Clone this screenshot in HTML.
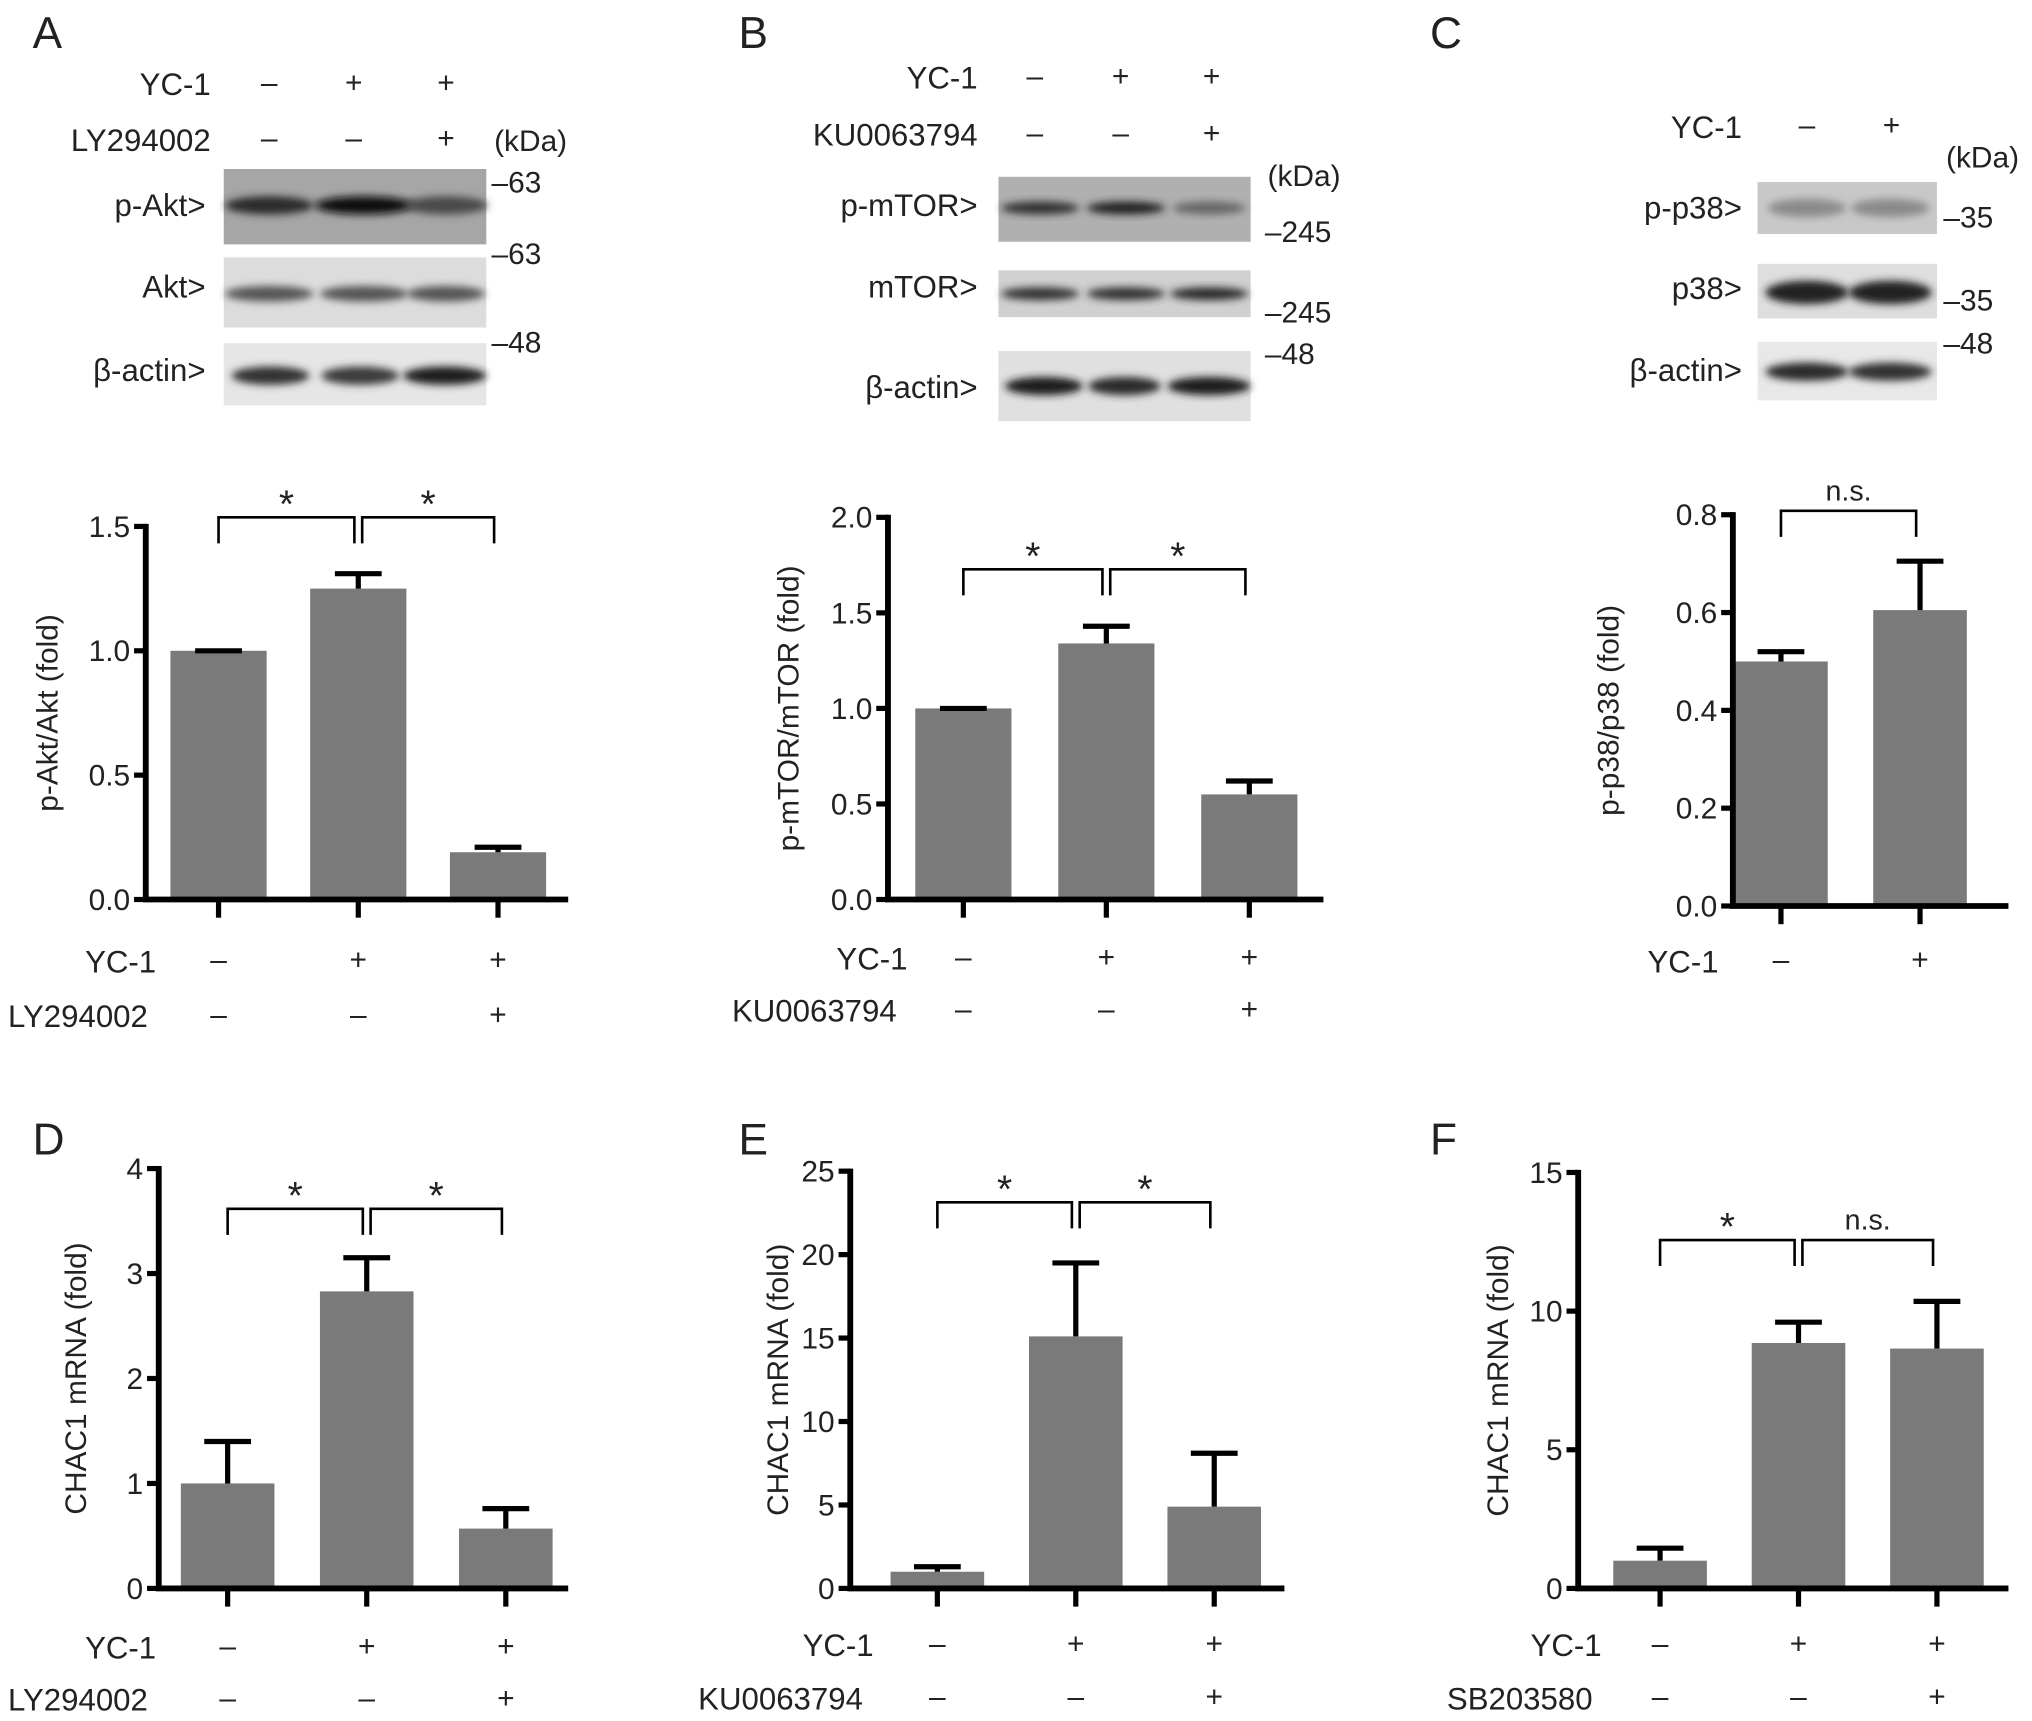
<!DOCTYPE html>
<html><head><meta charset="utf-8">
<style>
html,body{margin:0;padding:0;background:#fff;}
svg{display:block;}
text{font-family:"Liberation Sans",Arial,sans-serif;fill:#222;}
</style></head>
<body>
<svg id="fig" width="2032" height="1721" viewBox="0 0 1563 1324" xmlns="http://www.w3.org/2000/svg">
<defs>
<filter id="blur" x="-20%" y="-50%" width="140%" height="200%"><feGaussianBlur stdDeviation="3"/></filter>
</defs>
<g id="blots"></g>
<g id="charts"></g>
</svg>
<script>
// ---- Chart data ----
const aCats = ["ctrl","YC-1","YC-1+LY294002"];
const aVals = [1.0, 1.25, 0.19];
const aErr = [0.0, 0.06, 0.02];
const aTicks = ["0.0","0.5","1.0","1.5"];
const bCats = ["ctrl","YC-1","YC-1+KU0063794"];
const bVals = [1.0, 1.34, 0.55];
const bErr = [0.0, 0.09, 0.07];
const bTicks = ["0.0","0.5","1.0","1.5","2.0"];
const cCats = ["ctrl","YC-1"];
const cVals = [0.50, 0.605];
const cErr = [0.02, 0.10];
const cTicks = ["0.0","0.2","0.4","0.6","0.8"];
const dCats = ["ctrl","YC-1","YC-1+LY294002"];
const dVals = [1.0, 2.83, 0.57];
const dErr = [0.40, 0.32, 0.19];
const dTicks = ["0","1","2","3","4"];
const eCats = ["ctrl","YC-1","YC-1+KU0063794"];
const eVals = [1.0, 15.1, 4.9];
const eErr = [0.3, 4.4, 3.2];
const eTicks = ["0","5","10","15","20","25"];
const fCats = ["ctrl","YC-1","YC-1+SB203580"];
const fVals = [1.0, 8.85, 8.65];
const fErr = [0.45, 0.75, 1.7];
const fTicks = ["0","5","10","15"];

const NS="http://www.w3.org/2000/svg";
function mk(tag, parent, attrs){
  const e=document.createElementNS(NS,tag);
  for(const k in attrs) e.setAttribute(k,attrs[k]);
  parent.appendChild(e); return e;
}
function txt(parent, x, y, s, size, anchor, name){
  const t=mk('text',parent,{x:x,y:y,'font-size':size,'text-anchor':anchor||'start'});
  t.textContent=s;
  
  
  return t;
}
const charts=document.getElementById('charts');
const blots=document.getElementById('blots');

[["A",25,37],["B",568,37],["C",1100,37],["D",25,888],["E",568,888],["F",1100,888]].forEach(p=>{
  txt(charts,p[1],p[2],p[0],34,'start','panel-label-'+p[0].toLowerCase());
});

function chart(id, g, vals, errs, cats, ticks, title, brackets, rows){
  const grp=mk('g',charts,{});
  
  
  const tmax=parseFloat(ticks[ticks.length-1]);
  const y=v=>g.y0-(v/tmax)*(g.y0-g.ytop);
  const x=i=>g.c0+i*g.step;
  vals.forEach((v,i)=>{
    const r=mk('rect',grp,{x:x(i)-g.bw/2,y:y(v),width:g.bw,height:g.y0-y(v),fill:'#7a7a7a'});
    
    
    const e=errs[i];
    const el=mk('path',grp,{d:`M${x(i)} ${y(v)} V${y(v+e)} M${x(i)-18} ${y(v+e)} H${x(i)+18}`,stroke:'#000','stroke-width':4,fill:'none'});
    
    
  });
  const ax=mk('path',grp,{d:`M${g.ax} ${y(tmax)-2} V${g.y0} H${g.xend}`,stroke:'#000','stroke-width':4.5,fill:'none'});
  
  
  ticks.forEach(t=>{
    const v=parseFloat(t);
    mk('path',grp,{d:`M${g.ax-9} ${y(v)} H${g.ax}`,stroke:'#000','stroke-width':4});
    txt(grp,g.ax-12,y(v)+8,t,23,'end','y-tick-label');
  });
  vals.forEach((v,i)=>{ mk('path',grp,{d:`M${x(i)} ${g.y0} V${g.y0+14}`,stroke:'#000','stroke-width':4}); });
  const yt=txt(grp,0,0,title,23,'middle','y-axis-title');
  yt.setAttribute('transform',`translate(${g.tx},${(g.y0+y(tmax))/2}) rotate(-90)`);
  brackets.forEach(b=>{
    const x1=x(b[0])+(b[0]>0?3:0), x2=x(b[1])-(b[1]<vals.length?3:0);
    const p=mk('path',grp,{d:`M${x1} ${g.by+20} V${g.by} H${x2} V${g.by+20}`,stroke:'#000','stroke-width':2,fill:'none'});
    
    
    const s=b[2]==='*';
    txt(grp,(x1+x2)/2,g.by-(s?0:8),b[2],s?30:22,'middle','significance-label');
  });
  rows.forEach((r,ri)=>{
    txt(grp,r.lx,r.y,r.label,24,r.anchor,'treatment-label');
    r.signs.forEach((s,i)=>txt(grp,x(i),r.y-2,s==='+'?'+':'–',23,'middle','treatment-sign'));
  });
}

chart('a',{ax:112,y0:692,ytop:405,xend:437,c0:168,step:107.5,bw:74,tx:44,by:398},aVals,aErr,aCats,aTicks,"p-Akt/Akt (fold)",
  [[0,1,'*'],[1,2,'*']],[{label:'YC-1',lx:120,y:748,anchor:'end',signs:['-','+','+']},{label:'LY294002',lx:6,y:790,anchor:'start',signs:['-','-','+']}]);
chart('b',{ax:683,y0:692,ytop:398,xend:1018,c0:741,step:110,bw:74,tx:614,by:438},bVals,bErr,bCats,bTicks,"p-mTOR/mTOR (fold)",
  [[0,1,'*'],[1,2,'*']],[{label:'YC-1',lx:698,y:746,anchor:'end',signs:['-','+','+']},{label:'KU0063794',lx:563,y:786,anchor:'start',signs:['-','-','+']}]);
chart('c',{ax:1333,y0:697,ytop:396,xend:1545,c0:1370,step:107,bw:72,tx:1245,by:393},cVals,cErr,cCats,cTicks,"p-p38/p38 (fold)",
  [[0,1,'n.s.']],[{label:'YC-1',lx:1322,y:748,anchor:'end',signs:['-','+']}]);
chart('d',{ax:122,y0:1222,ytop:899,xend:437,c0:175,step:107,bw:72,tx:66,by:930},dVals,dErr,dCats,dTicks,"CHAC1 mRNA (fold)",
  [[0,1,'*'],[1,2,'*']],[{label:'YC-1',lx:120,y:1276,anchor:'end',signs:['-','+','+']},{label:'LY294002',lx:6,y:1316,anchor:'start',signs:['-','-','+']}]);
chart('e',{ax:654,y0:1222,ytop:901,xend:988,c0:721,step:106.5,bw:72,tx:606,by:925},eVals,eErr,eCats,eTicks,"CHAC1 mRNA (fold)",
  [[0,1,'*'],[1,2,'*']],[{label:'YC-1',lx:672,y:1274,anchor:'end',signs:['-','+','+']},{label:'KU0063794',lx:537,y:1315,anchor:'start',signs:['-','-','+']}]);
chart('f',{ax:1214,y0:1222,ytop:902,xend:1545,c0:1277,step:106.5,bw:72,tx:1160,by:954},fVals,fErr,fCats,fTicks,"CHAC1 mRNA (fold)",
  [[0,1,'*'],[1,2,'n.s.']],[{label:'YC-1',lx:1232,y:1274,anchor:'end',signs:['-','+','+']},{label:'SB203580',lx:1113,y:1315,anchor:'start',signs:['-','-','+']}]);

function blot(name,x,y,w,h,bg,bands,bandH,cy){
  const g=mk('g',blots,{});
  
  
  mk('rect',g,{x:x,y:y,width:w,height:h,fill:bg});
  bands.forEach(b=>{
    mk('ellipse',g,{cx:b[0],cy:y+cy,rx:b[1],ry:bandH,fill:b[2],filter:'url(#blur)'});
  });
}
function header(rows,lx,signsX){
  rows.forEach(r=>{
    txt(blots,lx,r[1],r[0],24,'end','blot-treatment-label');
    r[2].forEach((s,i)=>txt(blots,signsX[i],r[1]-2,s==='+'?'+':'–',23,'middle','blot-treatment-sign'));
  });
}
header([['YC-1',73,['-','+','+']],['LY294002',116,['-','-','+']]],162,[207,272,343]);
txt(blots,380,116,'(kDa)',23,'start','kda-label');
blot('blot-p-akt',172,130,202,58,'#a6a6a6',[[207,34,'#2a2a2a'],[280,38,'#111'],[343,32,'#4a4a4a']],7,28);
blot('blot-akt',172,198,202,54,'#dcdcdc',[[207,34,'#555'],[280,34,'#555'],[343,30,'#555']],6,28);
blot('blot-b-actin-a',172,264,202,48,'#e6e6e6',[[208,30,'#333'],[277,30,'#3a3a3a'],[342,32,'#1a1a1a']],7,25);
[['p-Akt>',166],['Akt>',229],['β-actin>',293]].forEach(l=>txt(blots,158,l[1],l[0],24,'end','blot-row-label'));
[['–63',148],['–63',203],['–48',271]].forEach(l=>txt(blots,378,l[1],l[0],23,'start','mw-marker'));
header([['YC-1',68,['-','+','+']],['KU0063794',112,['-','-','+']]],752,[796,862,932]);
txt(blots,975,143,'(kDa)',23,'start','kda-label');
blot('blot-p-mtor',768,136,194,50,'#b0b0b0',[[800,30,'#333'],[866,30,'#222'],[930,28,'#666']],5,24);
blot('blot-mtor',768,208,194,36,'#d0d0d0',[[800,30,'#333'],[866,30,'#333'],[930,30,'#2a2a2a']],5,18);
blot('blot-b-actin-b',768,270,194,54,'#e0e0e0',[[803,30,'#1a1a1a'],[865,28,'#2a2a2a'],[930,32,'#1a1a1a']],7,27);
[['p-mTOR>',166],['mTOR>',229],['β-actin>',306]].forEach(l=>txt(blots,752,l[1],l[0],24,'end','blot-row-label'));
[['–245',186],['–245',248],['–48',280]].forEach(l=>txt(blots,973,l[1],l[0],23,'start','mw-marker'));
header([['YC-1',106,['-','+']]],1340,[1390,1455]);
txt(blots,1497,129,'(kDa)',23,'start','kda-label');
blot('blot-p-p38',1352,140,138,40,'#c8c8c8',[[1390,30,'#8a8a8a'],[1454,30,'#8a8a8a']],7,20);
blot('blot-p38',1352,203,138,42,'#dedede',[[1390,32,'#222'],[1454,32,'#222']],9,22);
blot('blot-b-actin-c',1352,263,138,45,'#e8e8e8',[[1390,32,'#2a2a2a'],[1454,32,'#333']],7,23);
[['p-p38>',168],['p38>',230],['β-actin>',293]].forEach(l=>txt(blots,1340,l[1],l[0],24,'end','blot-row-label'));
[['–35',175],['–35',239],['–48',272]].forEach(l=>txt(blots,1495,l[1],l[0],23,'start','mw-marker'));
</script>
</body></html>
